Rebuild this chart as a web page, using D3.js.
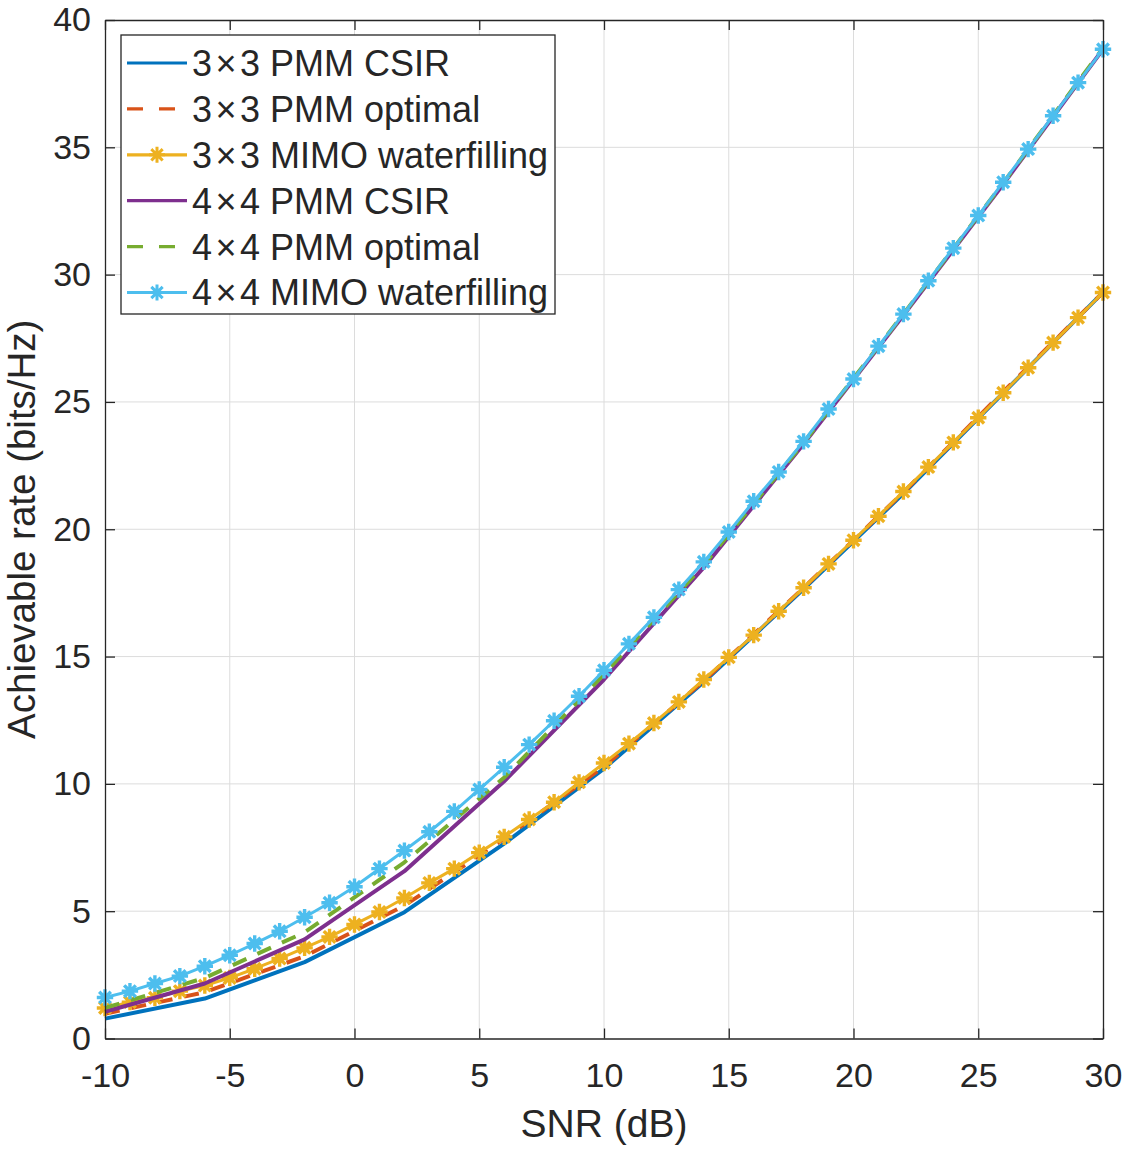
<!DOCTYPE html>
<html>
<head>
<meta charset="utf-8">
<script src="https://cdn.jsdelivr.net/npm/d3@7"></script>
<style>
	body { margin: 0; background: #fff; }
	text { font-family: "Liberation Sans", Arial, Helvetica, sans-serif; fill: #262626; }
</style>
</head>
<body>
<div id="chart"></div>
<script>
// SNR sample points (dB)
const snrFine = [-10, -9, -8, -7, -6, -5, -4, -3, -2, -1, 0, 1, 2, 3, 4, 5, 6, 7, 8, 9, 10,
	11, 12, 13, 14, 15, 16, 17, 18, 19, 20, 21, 22, 23, 24, 25, 26, 27, 28, 29, 30]
const snrCoarse = [-10, -6, -2, 2, 6, 10, 14, 18, 22, 26, 30]

// achievable rates (bits/Hz)
const csir3 = [0.78, 1.57, 3.0, 4.96, 7.65, 10.6, 14.0, 17.65, 21.4, 25.35, 29.3]
const optimal3 = [0.97, 1.82, 3.23, 5.22, 7.85, 10.68, 14.05, 17.7, 21.45, 25.4, 29.3]
const waterfill3 = [1.2, 1.43, 1.6, 1.86, 2.08, 2.38, 2.74, 3.14, 3.56, 3.99, 4.48, 4.97, 5.52,
	6.11, 6.67, 7.3, 7.92, 8.6, 9.28, 10.06, 10.82, 11.58, 12.39, 13.22, 14.1, 14.97, 15.84,
	16.78, 17.7, 18.64, 19.57, 20.51, 21.48, 22.44, 23.41, 24.38, 25.36, 26.34, 27.33, 28.31, 29.3]
const csir4 = [1.05, 2.16, 3.89, 6.57, 10.1, 14.1, 18.5, 23.35, 28.4, 33.55, 38.85]
const optimal4 = [1.2, 2.38, 4.17, 6.92, 10.25, 14.3, 18.6, 23.4, 28.45, 33.6, 38.9]
const waterfill4 = [1.61, 1.86, 2.16, 2.45, 2.84, 3.27, 3.73, 4.21, 4.76, 5.33, 5.96, 6.67, 7.38,
	8.12, 8.92, 9.78, 10.65, 11.54, 12.48, 13.44, 14.46, 15.5, 16.54, 17.63, 18.72, 19.89, 21.1,
	22.25, 23.45, 24.72, 25.9, 27.19, 28.45, 29.76, 31.04, 32.32, 33.63, 34.93, 36.24, 37.54, 38.85]

const seriesNames = ["3\u00d73 PMM CSIR", "3\u00d73 PMM optimal", "3\u00d73 MIMO waterfilling",
	"4\u00d74 PMM CSIR", "4\u00d74 PMM optimal", "4\u00d74 MIMO waterfilling"]

const xTicks = [-10, -5, 0, 5, 10, 15, 20, 25, 30]
const yTicks = [0, 5, 10, 15, 20, 25, 30, 35, 40]

const W = 1128, H = 1150
const MARGIN = { TOP: 20, BOTTOM: 111.5, LEFT: 105, RIGHT: 25 }
const WIDTH = W - MARGIN.LEFT - MARGIN.RIGHT
const HEIGHT = H - MARGIN.TOP - MARGIN.BOTTOM
const AXIS = "#262626"
const DASH = "15,12"

// series table for drawing
const series = [
	{ name: seriesNames[0], xs: snrCoarse, ys: csir3, color: "#0072BD", width: 4, dash: null, marker: false },
	{ name: seriesNames[1], xs: snrCoarse, ys: optimal3, color: "#D95319", width: 4, dash: DASH, marker: false },
	{ name: seriesNames[2], xs: snrFine, ys: waterfill3, color: "#EDB120", width: 3, dash: null, marker: true },
	{ name: seriesNames[3], xs: snrCoarse, ys: csir4, color: "#7E2F8E", width: 4, dash: null, marker: false },
	{ name: seriesNames[4], xs: snrCoarse, ys: optimal4, color: "#77AC30", width: 4, dash: DASH, marker: false },
	{ name: seriesNames[5], xs: snrFine, ys: waterfill4, color: "#4DBEEE", width: 3, dash: null, marker: true }
]

const svg = d3.select("#chart").append("svg")
	.attr("width", W)
	.attr("height", H)

const g = svg.append("g")
	.attr("transform", `translate(${MARGIN.LEFT}, ${MARGIN.TOP})`)

const x = d3.scaleLinear().domain([-10, 30]).range([0, WIDTH])
const y = d3.scaleLinear().domain([0, 40]).range([HEIGHT, 0])

// grid
g.append("g").selectAll("line").data(xTicks.slice(1, -1)).enter().append("line")
	.attr("x1", d => x(d)).attr("x2", d => x(d))
	.attr("y1", 0).attr("y2", HEIGHT)
	.attr("stroke", "#dcdcdc").attr("stroke-width", 1)
g.append("g").selectAll("line").data(yTicks.slice(1, -1)).enter().append("line")
	.attr("y1", d => y(d)).attr("y2", d => y(d))
	.attr("x1", 0).attr("x2", WIDTH)
	.attr("stroke", "#dcdcdc").attr("stroke-width", 1)

// asterisk marker
const R = 6.5, D = R * 0.7071
const star = `M0,${-R}L0,${R}M${-R},0L${R},0M${-D},${-D}L${D},${D}M${-D},${D}L${D},${-D}`

const line = d3.line()
	.x(d => x(d[0]))
	.y(d => y(d[1]))

series.forEach(s => {
	const pts = s.xs.map((v, i) => [v, s.ys[i]])
	g.append("path")
		.datum(pts)
		.attr("fill", "none")
		.attr("stroke", s.color)
		.attr("stroke-width", s.width)
		.attr("stroke-dasharray", s.dash)
		.attr("stroke-linejoin", "round")
		.attr("d", line)
	if (s.marker) {
		g.append("g").selectAll("path").data(pts).enter().append("path")
			.attr("transform", d => `translate(${x(d[0])}, ${y(d[1])})`)
			.attr("d", star)
			.attr("fill", "none")
			.attr("stroke", s.color)
			.attr("stroke-width", 3.4)
			.attr("stroke-linecap", "square")
	}
})

// axes
const fmt = d => String(d)
const styleAxis = (sel, labels) => {
	sel.select(".domain").attr("stroke", AXIS).attr("stroke-width", 1.3)
	sel.selectAll(".tick line").attr("stroke", AXIS).attr("stroke-width", 1.3)
	sel.selectAll(".tick text").attr("font-size", 34).style("fill", AXIS)
		.attr("font-family", "'Liberation Sans', Arial, sans-serif")
	if (!labels) sel.selectAll(".tick text").remove()
}

g.append("g")
	.attr("transform", `translate(0, ${HEIGHT})`)
	.call(d3.axisBottom(x).tickValues(xTicks).tickFormat(fmt).tickSize(-10).tickSizeOuter(0).tickPadding(24))
	.call(sel => styleAxis(sel, true))
g.append("g")
	.call(d3.axisLeft(y).tickValues(yTicks).tickFormat(fmt).tickSize(-10).tickSizeOuter(0).tickPadding(14))
	.call(sel => styleAxis(sel, true))
g.append("g")
	.call(d3.axisTop(x).tickValues(xTicks).tickSize(-10).tickSizeOuter(0))
	.call(sel => styleAxis(sel, false))
g.append("g")
	.attr("transform", `translate(${WIDTH}, 0)`)
	.call(d3.axisRight(y).tickValues(yTicks).tickSize(-10).tickSizeOuter(0))
	.call(sel => styleAxis(sel, false))

// axis titles
g.append("text")
	.attr("x", WIDTH / 2)
	.attr("y", HEIGHT + 98.5)
	.attr("font-size", 39)
	.attr("text-anchor", "middle")
	.text("SNR (dB)")

g.append("text")
	.attr("x", -HEIGHT / 2)
	.attr("y", -70)
	.attr("transform", "rotate(-90)")
	.attr("font-size", 38.5)
	.attr("text-anchor", "middle")
	.text("Achievable rate (bits/Hz)")

// legend
const legend = g.append("g")
	.attr("transform", `translate(${121 - MARGIN.LEFT}, ${35 - MARGIN.TOP})`)

legend.append("rect")
	.attr("width", 434)
	.attr("height", 279)
	.attr("fill", "#fff")
	.attr("stroke", AXIS)
	.attr("stroke-width", 1.3)

series.forEach((s, i) => {
	const ly = 28 + i * 45.9
	const row = legend.append("g").attr("transform", `translate(0, ${ly})`)
	row.append("line")
		.attr("x1", 6).attr("x2", 66)
		.attr("stroke", s.color)
		.attr("stroke-width", 3.2)
		.attr("stroke-dasharray", s.dash ? "16,16" : null)
	if (s.marker) {
		row.append("path")
			.attr("transform", "translate(36, 0)")
			.attr("d", star)
			.attr("fill", "none")
			.attr("stroke", s.color)
			.attr("stroke-width", 3)
			.attr("stroke-linecap", "square")
	}
	// the "×" is set a little apart, as in the original tex rendering
	const parts = s.name.split("\u00d7")
	const label = row.append("text")
		.attr("x", 71)
		.attr("dy", "0.36em")
		.attr("font-size", 36)
	label.append("tspan").text(parts[0])
	label.append("tspan").attr("dx", 3.5).text("\u00d7")
	label.append("tspan").attr("dx", 3.5).text(parts[1])
})
</script>
</body>
</html>
